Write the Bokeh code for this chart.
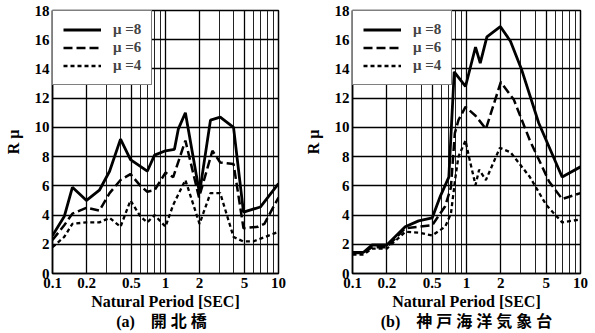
from bokeh.plotting import figure
from bokeh.layouts import row
from bokeh.models import FixedTicker, Legend, LegendItem, LogAxis, Range1d
from bokeh.embed import file_html
from bokeh.resources import INLINE

# ---- data ----
x_ticks = [0.1, 0.2, 0.5, 1, 2, 5, 10]
x_tick_labels = {0.1: "0.1", 0.2: "0.2", 0.5: "0.5", 1: "1", 2: "2", 5: "5", 10: "10"}
y_ticks = [0, 2, 4, 6, 8, 10, 12, 14, 16, 18]
series_labels = ["\u03bc =8", "\u03bc =6", "\u03bc =4"]

# (a) 開北橋
a8_x = [0.1, 0.127, 0.15, 0.2, 0.26, 0.32, 0.4, 0.49, 0.69, 0.8, 1.0, 1.2, 1.3, 1.5, 2.0, 2.5, 3.05, 4.0, 4.9, 6.9, 10]
a8_y = [2.6, 3.9, 5.9, 5.0, 5.7, 7.0, 9.2, 7.8, 7.0, 8.1, 8.4, 8.5, 9.9, 11.0, 5.5, 10.5, 10.7, 10.0, 4.2, 4.55, 6.15]
a6_x = [0.1, 0.127, 0.15, 0.2, 0.26, 0.32, 0.4, 0.49, 0.6, 0.69, 0.8, 1.0, 1.17, 1.5, 1.98, 2.6, 3.05, 4.0, 4.9, 6.6, 7.5, 10]
a6_y = [2.3, 3.3, 4.1, 4.5, 4.3, 5.5, 6.4, 6.8, 6.0, 5.6, 5.7, 6.9, 6.6, 9.1, 5.2, 8.4, 7.6, 7.5, 3.1, 3.2, 3.4, 5.2]
a4_x = [0.1, 0.127, 0.15, 0.2, 0.26, 0.32, 0.4, 0.49, 0.6, 0.69, 0.8, 1.0, 1.17, 1.5, 2.0, 2.5, 3.05, 4.0, 4.85, 6.0, 10]
a4_y = [1.8, 2.5, 3.4, 3.5, 3.5, 3.8, 3.2, 5.0, 3.9, 3.5, 4.0, 3.2, 4.7, 6.4, 3.4, 5.5, 5.5, 2.5, 2.2, 2.2, 2.85]

# (b) 神戸海洋気象台
b8_x = [0.1, 0.125, 0.148, 0.2, 0.29, 0.38, 0.5, 0.59, 0.7, 0.78, 0.98, 1.2, 1.32, 1.51, 1.98, 2.43, 3.03, 4.3, 6.9, 10]
b8_y = [1.45, 1.45, 1.95, 1.95, 3.2, 3.6, 3.8, 5.3, 6.6, 13.8, 12.8, 15.5, 14.4, 16.2, 16.9, 15.9, 14.0, 10.3, 6.6, 7.3]
b6_x = [0.1, 0.125, 0.148, 0.2, 0.29, 0.5, 0.65, 0.73, 0.79, 0.85, 0.98, 1.2, 1.48, 2.0, 2.6, 3.6, 5.3, 6.9, 10]
b6_y = [1.4, 1.4, 1.8, 1.8, 3.1, 3.3, 4.6, 5.9, 9.6, 10.5, 11.4, 10.8, 9.9, 13.1, 11.9, 9.1, 6.3, 5.1, 5.5]
b4_x = [0.1, 0.125, 0.148, 0.2, 0.29, 0.38, 0.5, 0.65, 0.73, 0.8, 0.85, 0.98, 1.05, 1.2, 1.29, 1.48, 1.96, 2.43, 3.6, 5.0, 6.9, 10]
b4_y = [1.3, 1.3, 1.7, 1.7, 2.85, 2.8, 2.6, 3.2, 4.1, 6.6, 8.0, 9.1, 8.0, 6.05, 7.1, 6.4, 8.6, 8.3, 6.6, 4.7, 3.5, 3.7]

caption_a = "(a)\u3000開  北  橋"
caption_b = "(b)\u3000神 戸 海 洋 気 象 台"

minor_x = [0.1 * i for i in range(1, 10)] + [float(i) for i in range(1, 11)]

SERIF = "Liberation Serif"
CAPTION_FONT = "Liberation Serif, Noto Sans CJK JP"

H = 333
TOP = 10
BOTTOM = 60


def make_panel(width, bl, br, caption, data):
    p = figure(width=width, height=H, x_axis_type="log",
               x_range=Range1d(0.1, 10), y_range=Range1d(0, 18),
               output_backend="svg", toolbar_location=None, title=None,
               min_border_left=bl, min_border_right=br, min_border_top=TOP,
               min_border_bottom=BOTTOM)
    p.background_fill_color = "white"
    p.border_fill_color = "white"
    p.outline_line_color = "black"
    p.outline_line_width = 1.5

    p.xaxis.ticker = FixedTicker(ticks=x_ticks, minor_ticks=minor_x)
    p.xaxis.major_label_overrides = x_tick_labels
    p.yaxis.ticker = FixedTicker(ticks=y_ticks)
    for ax in (p.xaxis, p.yaxis):
        ax.major_tick_out = 0
        ax.major_tick_in = 0
        ax.minor_tick_out = 0
        ax.minor_tick_in = 0
        ax.axis_line_color = "black"
        ax.axis_line_width = 1.5
        ax.major_label_text_font = SERIF
        ax.major_label_text_font_style = "bold"
        ax.major_label_text_font_size = "15px"
        ax.major_label_text_color = "black"
        ax.axis_label_text_font = SERIF
        ax.axis_label_text_font_style = "bold"
        ax.axis_label_text_font_size = "16px"
        ax.axis_label_text_color = "black"
    p.xaxis.major_label_standoff = 4
    p.yaxis.major_label_standoff = 3
    p.xaxis.axis_label = "Natural Period [SEC]"
    p.xaxis.axis_label_standoff = 2
    p.yaxis.axis_label = "R \u03bc"
    p.yaxis.axis_label_standoff = 10

    p.xgrid.grid_line_color = "black"
    p.xgrid.grid_line_width = 1.3
    p.xgrid.minor_grid_line_color = "#222222"
    p.xgrid.minor_grid_line_width = 1
    p.ygrid.grid_line_color = "black"
    p.ygrid.grid_line_width = 1.4

    (x8, y8), (x6, y6), (x4, y4) = data
    r8 = p.line(x8, y8, line_color="black", line_width=2.8)
    r6 = p.line(x6, y6, line_color="black", line_width=2.5, line_dash="9 4")
    r4 = p.line(x4, y4, line_color="black", line_width=2.3, line_dash="4 3")

    legend = Legend(items=[LegendItem(label=series_labels[0], renderers=[r8]),
                           LegendItem(label=series_labels[1], renderers=[r6]),
                           LegendItem(label=series_labels[2], renderers=[r4])],
                    location="top_left", margin=0, padding=10, spacing=1,
                    glyph_width=38, glyph_height=13, label_height=13,
                    label_standoff=12, border_line_color="black",
                    border_line_width=1.2, background_fill_alpha=1.0,
                    label_text_font=SERIF, label_text_font_style="bold",
                    label_text_font_size="15px")
    p.add_layout(legend, "center")

    # caption below the axis title, as a tick-less extra axis
    cap = LogAxis(ticker=FixedTicker(ticks=[]), axis_label=caption,
                  axis_line_color=None, major_tick_out=0, major_tick_in=0,
                  minor_tick_out=0, minor_tick_in=0, major_label_standoff=0,
                  axis_label_standoff=0, axis_label_text_font=CAPTION_FONT,
                  axis_label_text_font_style="bold",
                  axis_label_text_font_size="16px",
                  axis_label_text_color="black")
    p.add_layout(cap, "below")
    return p


pa = make_panel(300, 52, 22, caption_a, [(a8_x, a8_y), (a6_x, a6_y), (a4_x, a4_y)])
pb = make_panel(294, 52, 14, caption_b, [(b8_x, b8_y), (b6_x, b6_y), (b4_x, b4_y)])

layout = row(pa, pb)
open("out.html", "w").write(file_html(layout, INLINE))
